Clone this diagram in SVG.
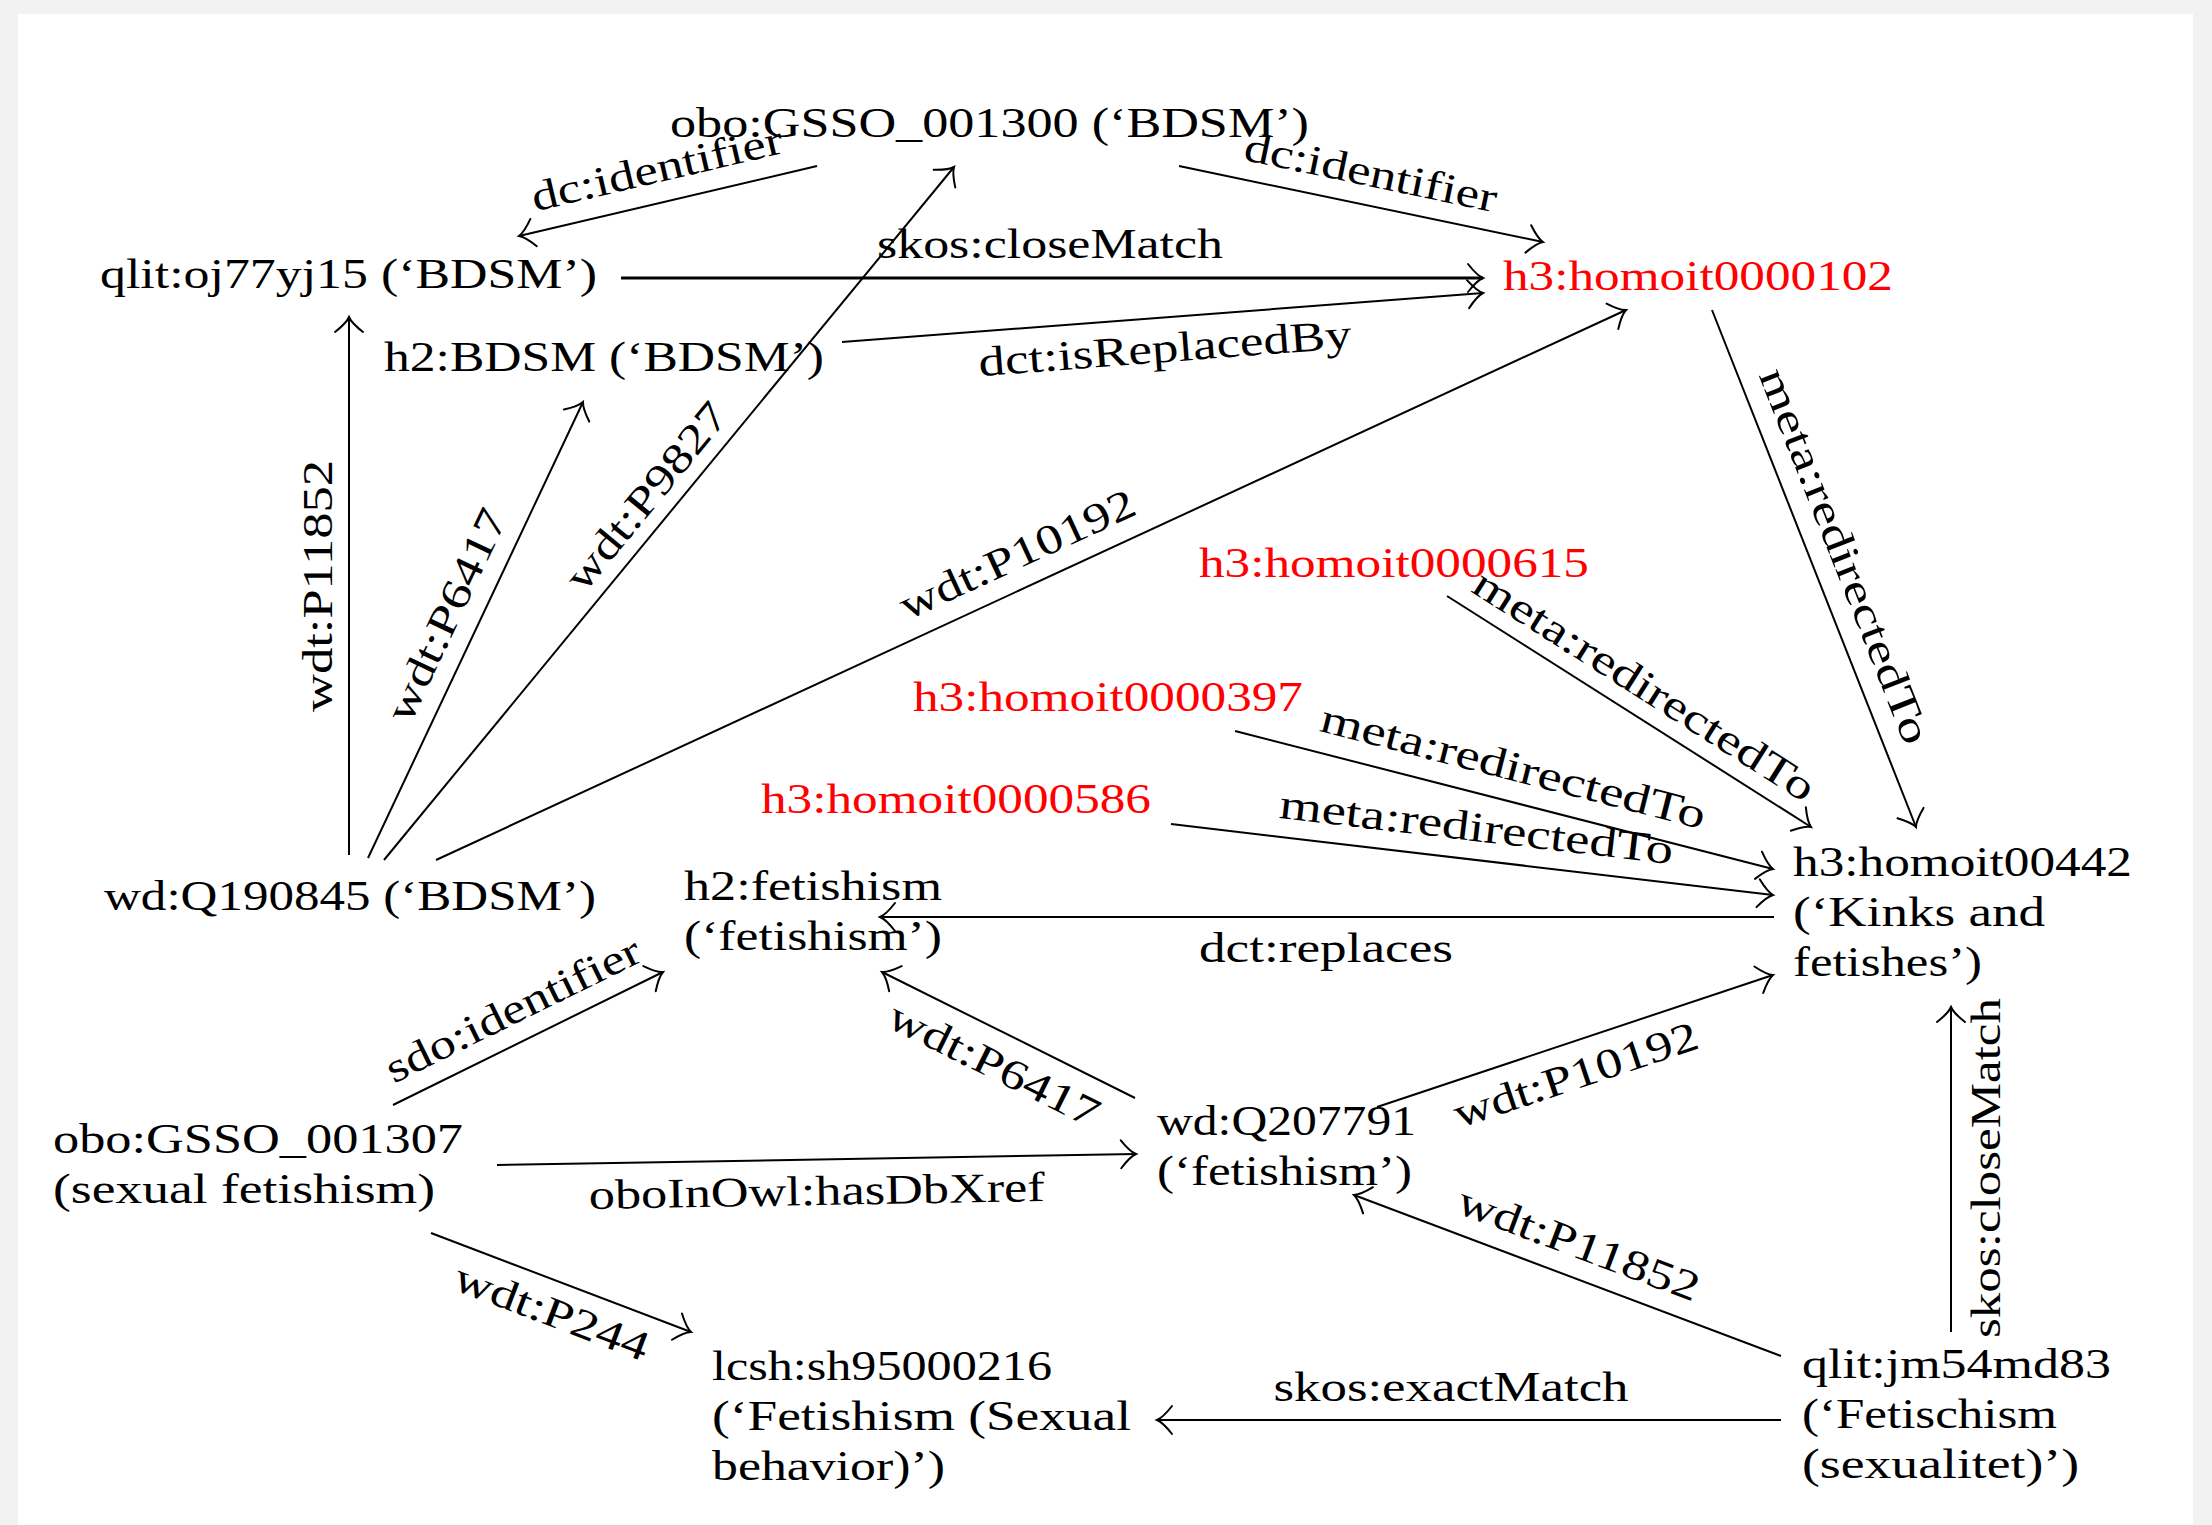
<svg xmlns="http://www.w3.org/2000/svg" width="2212" height="1525" viewBox="0 0 2212 1525">
<style>
text { font-family: "Liberation Serif", "Times New Roman", serif; font-size: 42px; fill: #000; }
.red { fill: #ff0000; }
.lbl { text-anchor: middle; }
.edge { stroke: #000; stroke-width: 2; fill: none; marker-end: url(#arr); }
.thick { stroke-width: 3; }
</style>
<defs>
<marker id="arr" markerUnits="userSpaceOnUse" viewBox="-18 -18 22 36" markerWidth="22" markerHeight="36" refX="0" refY="0" orient="auto" overflow="visible">
<path d="M -15 -14 Q -6 -2.5 0 0 Q -6 2.5 -15 14" fill="none" stroke="#000" stroke-width="2" stroke-linecap="round"/>
</marker>
</defs>
<rect x="0" y="0" width="2212" height="1525" fill="#f2f2f2"/>
<rect x="18" y="14" width="2175" height="1511" fill="#ffffff"/>

<g id="connectors">
<path class="edge" d="M817,166 L519,236"/>
<path class="edge" d="M1179,166 L1543,242"/>
<path class="edge thick" d="M621,278 L1483,278"/>
<path class="edge" d="M842,342 L1483,293"/>
<path class="edge" d="M349,855 L349,317"/>
<path class="edge" d="M368,858 L583,402"/>
<path class="edge" d="M384,860 L954,167"/>
<path class="edge" d="M436,860 L1626,310"/>
<path class="edge" d="M1712,310 L1916,827"/>
<path class="edge" d="M1447,596 L1811,827"/>
<path class="edge" d="M1235,731 L1773,869"/>
<path class="edge" d="M1171,824 L1773,895"/>
<path class="edge" d="M1774,917 L880,917"/>
<path class="edge" d="M393,1105 L663,972"/>
<path class="edge" d="M497,1165 L1136,1154"/>
<path class="edge" d="M431,1233 L691,1332"/>
<path class="edge" d="M1135,1098 L882,972"/>
<path class="edge" d="M1377,1107 L1773,975"/>
<path class="edge" d="M1781,1356 L1354,1195"/>
<path class="edge" d="M1781,1420 L1157,1420"/>
<path class="edge" d="M1951,1332 L1951,1007"/>

<text class="lbl" transform="translate(660,182) rotate(-13.22)" textLength="257" lengthAdjust="spacingAndGlyphs">dc:identifier</text>
<text class="lbl" transform="translate(1368,186) rotate(11.79)" textLength="257" lengthAdjust="spacingAndGlyphs">dc:identifier</text>
<text class="lbl" x="1050" y="258" textLength="346" lengthAdjust="spacingAndGlyphs">skos:closeMatch</text>
<text class="lbl" transform="translate(1166,362) rotate(-4.37)" textLength="374" lengthAdjust="spacingAndGlyphs">dct:isReplacedBy</text>
<text class="lbl" transform="translate(332,586) rotate(-90)" textLength="252" lengthAdjust="spacingAndGlyphs">wdt:P11852</text>
<text class="lbl" transform="translate(459,621) rotate(-64.76)" textLength="230" lengthAdjust="spacingAndGlyphs">wdt:P6417</text>
<text class="lbl" transform="translate(657,505) rotate(-50.56)" textLength="230" lengthAdjust="spacingAndGlyphs">wdt:P9827</text>
<text class="lbl" transform="translate(1023,567) rotate(-24.8)" textLength="255" lengthAdjust="spacingAndGlyphs">wdt:P10192</text>
<text class="lbl" transform="translate(1832,561) rotate(68.47)" textLength="400" lengthAdjust="spacingAndGlyphs">meta:redirectedTo</text>
<text class="lbl" transform="translate(1637,697) rotate(32.4)" textLength="396" lengthAdjust="spacingAndGlyphs">meta:redirectedTo</text>
<text class="lbl" transform="translate(1510,780) rotate(14.39)" textLength="396" lengthAdjust="spacingAndGlyphs">meta:redirectedTo</text>
<text class="lbl" transform="translate(1475,841) rotate(6.73)" textLength="396" lengthAdjust="spacingAndGlyphs">meta:redirectedTo</text>
<text class="lbl" x="1326" y="962" textLength="254" lengthAdjust="spacingAndGlyphs">dct:replaces</text>
<text class="lbl" transform="translate(519,1022) rotate(-26.22)" textLength="279" lengthAdjust="spacingAndGlyphs">sdo:identifier</text>
<text class="lbl" transform="translate(817,1205) rotate(-0.99)" textLength="456" lengthAdjust="spacingAndGlyphs">oboInOwl:hasDbXref</text>
<text class="lbl" transform="translate(547,1325) rotate(20.84)" textLength="205" lengthAdjust="spacingAndGlyphs">wdt:P244</text>
<text class="lbl" transform="translate(988,1077) rotate(26.47)" textLength="230" lengthAdjust="spacingAndGlyphs">wdt:P6417</text>
<text class="lbl" transform="translate(1580,1088) rotate(-18.43)" textLength="255" lengthAdjust="spacingAndGlyphs">wdt:P10192</text>
<text class="lbl" transform="translate(1574,1257) rotate(20.66)" textLength="255" lengthAdjust="spacingAndGlyphs">wdt:P11852</text>
<text class="lbl" x="1451" y="1401" textLength="355" lengthAdjust="spacingAndGlyphs">skos:exactMatch</text>
<text class="lbl" transform="translate(2000,1168) rotate(-90)" textLength="340" lengthAdjust="spacingAndGlyphs">skos:closeMatch</text>
</g>

<g id="n-gsso001300"><text x="670" y="137" textLength="639" lengthAdjust="spacingAndGlyphs">obo:GSSO_001300 (‘BDSM’)</text></g>
<g id="n-qlit-oj77yj15"><text x="100" y="288" textLength="497" lengthAdjust="spacingAndGlyphs">qlit:oj77yj15 (‘BDSM’)</text></g>
<g id="n-h2-bdsm"><text x="384" y="371" textLength="440" lengthAdjust="spacingAndGlyphs">h2:BDSM (‘BDSM’)</text></g>
<g id="n-h3-0000102"><text class="red" x="1503" y="290" textLength="390" lengthAdjust="spacingAndGlyphs">h3:homoit0000102</text></g>
<g id="n-wd-q190845"><text x="104" y="910" textLength="492" lengthAdjust="spacingAndGlyphs">wd:Q190845 (‘BDSM’)</text></g>
<g id="n-h2-fetishism">
<text x="684" y="900" textLength="258" lengthAdjust="spacingAndGlyphs">h2:fetishism</text>
<text x="684" y="950" textLength="258" lengthAdjust="spacingAndGlyphs">(‘fetishism’)</text>
</g>
<g id="n-h3-00442">
<text x="1793" y="876" textLength="339" lengthAdjust="spacingAndGlyphs">h3:homoit00442</text>
<text x="1793" y="926" textLength="252" lengthAdjust="spacingAndGlyphs">(‘Kinks and</text>
<text x="1793" y="976" textLength="189" lengthAdjust="spacingAndGlyphs">fetishes’)</text>
</g>
<g id="n-h3-0000615"><text class="red" x="1199" y="577" textLength="390" lengthAdjust="spacingAndGlyphs">h3:homoit0000615</text></g>
<g id="n-h3-0000397"><text class="red" x="913" y="711" textLength="390" lengthAdjust="spacingAndGlyphs">h3:homoit0000397</text></g>
<g id="n-h3-0000586"><text class="red" x="761" y="813" textLength="390" lengthAdjust="spacingAndGlyphs">h3:homoit0000586</text></g>
<g id="n-gsso001307">
<text x="53" y="1153" textLength="410" lengthAdjust="spacingAndGlyphs">obo:GSSO_001307</text>
<text x="53" y="1203" textLength="382" lengthAdjust="spacingAndGlyphs">(sexual fetishism)</text>
</g>
<g id="n-wd-q207791">
<text x="1157" y="1135" textLength="259" lengthAdjust="spacingAndGlyphs">wd:Q207791</text>
<text x="1157" y="1185" textLength="255" lengthAdjust="spacingAndGlyphs">(‘fetishism’)</text>
</g>
<g id="n-lcsh">
<text x="712" y="1380" textLength="340" lengthAdjust="spacingAndGlyphs">lcsh:sh95000216</text>
<text x="712" y="1430" textLength="419" lengthAdjust="spacingAndGlyphs">(‘Fetishism (Sexual</text>
<text x="712" y="1480" textLength="233" lengthAdjust="spacingAndGlyphs">behavior)’)</text>
</g>
<g id="n-qlit-jm54md83">
<text x="1802" y="1378" textLength="309" lengthAdjust="spacingAndGlyphs">qlit:jm54md83</text>
<text x="1802" y="1428" textLength="255" lengthAdjust="spacingAndGlyphs">(‘Fetischism</text>
<text x="1802" y="1478" textLength="277" lengthAdjust="spacingAndGlyphs">(sexualitet)’)</text>
</g>
</svg>
